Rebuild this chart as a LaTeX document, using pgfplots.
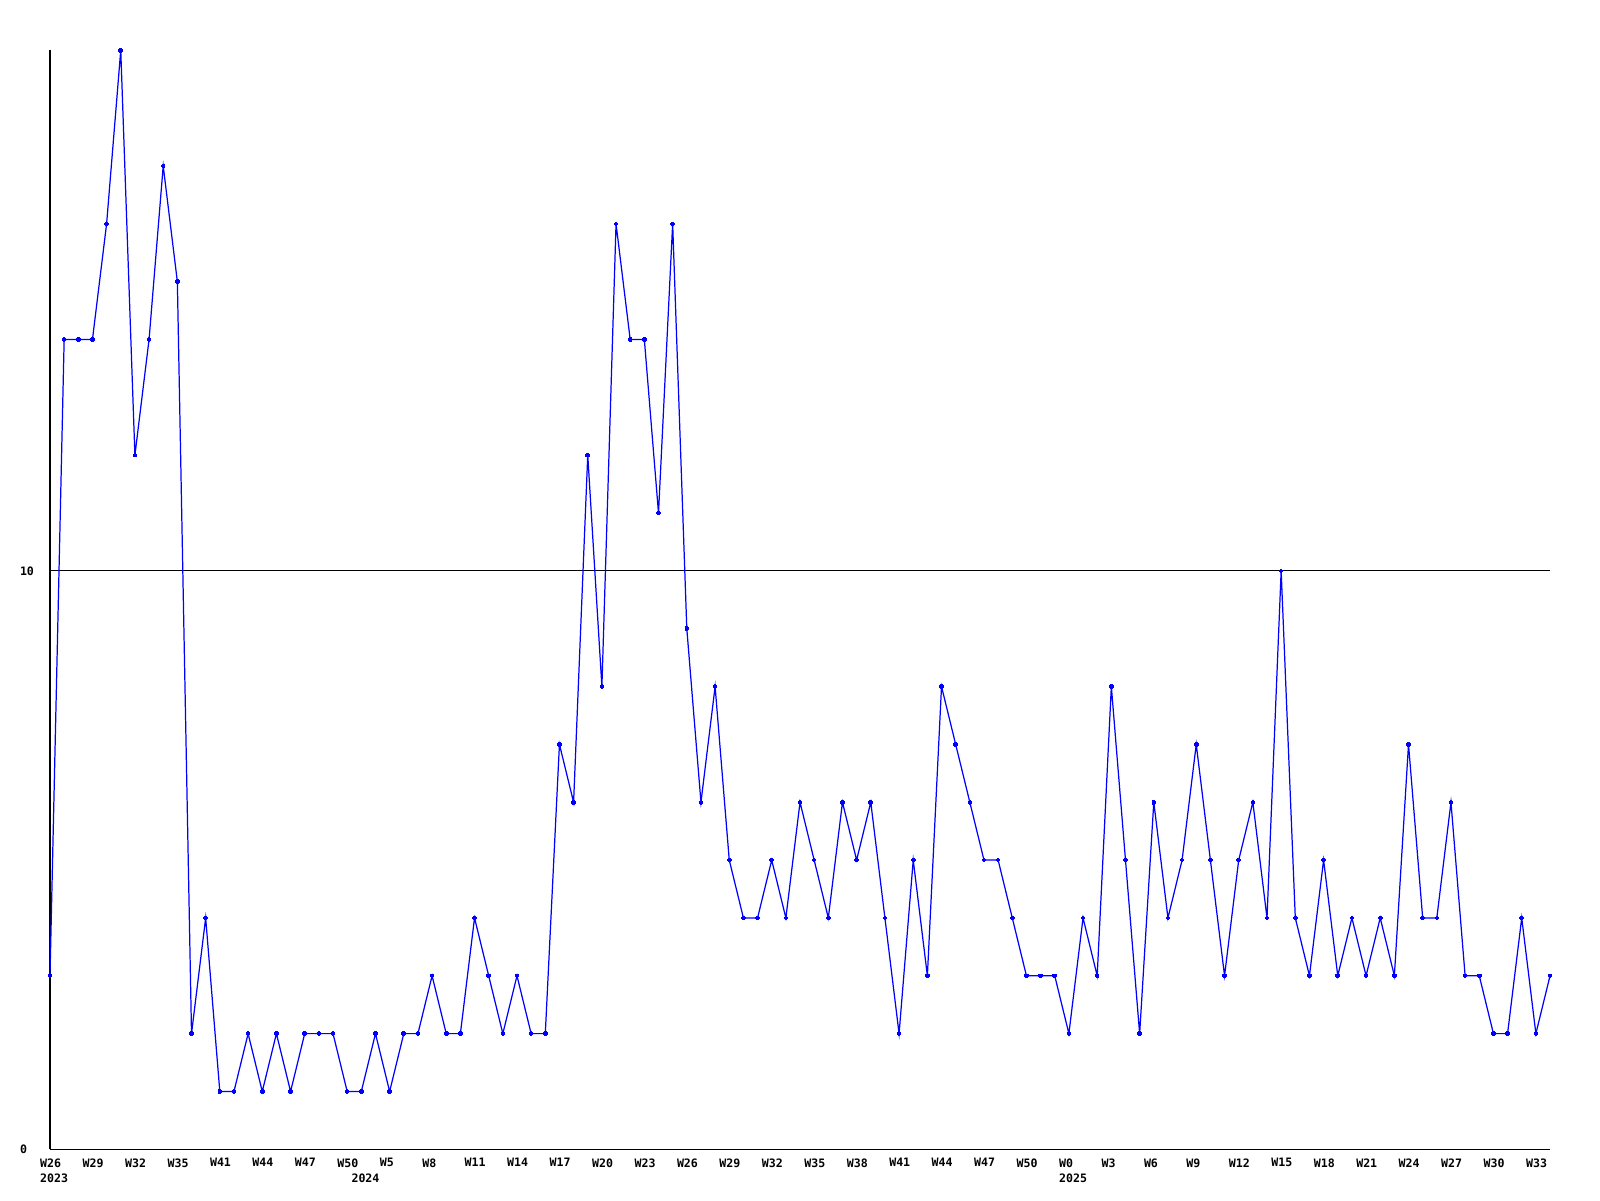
\documentclass[border=0pt]{standalone}
\usepackage{pgfplots}
\pgfplotsset{compat=1.18}
\usepackage{fontspec}
\setmonofont{DejaVu Sans Mono}
\newcommand{\lab}{\ttfamily\bfseries\fontsize{3.3}{3.3}\selectfont}
\begin{document}
\begin{tikzpicture}
\begin{axis}[
  scale only axis,
  width=15cm, height=10.99cm,
  xmin=0, xmax=106, ymin=0, ymax=19,
  axis x line=bottom, axis y line=left,
  axis line style={-, black, line width=0.3pt},
  clip=false,
  major tick length=0pt,
  xtick={0,3,...,105},
  xticklabels={W26,W29,W32,W35,W41,W44,W47,W50,W5,W8,W11,W14,W17,W20,W23,W26,W29,W32,W35,W38,W41,W44,W47,W50,W0,W3,W6,W9,W12,W15,W18,W21,W24,W27,W30,W33},
  xticklabel style={font=\lab, anchor=north west, inner sep=0pt, xshift=-0.105cm, yshift=-0.085cm},
  ytick={0,10},
  yticklabels={0,10},
  yticklabel style={font=\lab, anchor=west, inner sep=0pt, xshift=-0.307cm},
  ymajorgrids, grid style={black, line width=0.3pt},
]
\addplot[blue, line width=0.35pt, mark=+, mark size=0.65pt, mark options={line width=0.75pt}] coordinates {
(0,3)(1,14)(2,14)(3,14)(4,16)(5,19)(6,12)(7,14)(8,17)(9,15)
(10,2)(11,4)(12,1)(13,1)(14,2)(15,1)(16,2)(17,1)(18,2)(19,2)
(20,2)(21,1)(22,1)(23,2)(24,1)(25,2)(26,2)(27,3)(28,2)(29,2)
(30,4)(31,3)(32,2)(33,3)(34,2)(35,2)(36,7)(37,6)(38,12)(39,8)
(40,16)(41,14)(42,14)(43,11)(44,16)(45,9)(46,6)(47,8)(48,5)(49,4)
(50,4)(51,5)(52,4)(53,6)(54,5)(55,4)(56,6)(57,5)(58,6)(59,4)
(60,2)(61,5)(62,3)(63,8)(64,7)(65,6)(66,5)(67,5)(68,4)(69,3)
(70,3)(71,3)(72,2)(73,4)(74,3)(75,8)(76,5)(77,2)(78,6)(79,4)
(80,5)(81,7)(82,5)(83,3)(84,5)(85,6)(86,4)(87,10)(88,4)(89,3)
(90,5)(91,3)(92,4)(93,3)(94,4)(95,3)(96,7)(97,4)(98,4)(99,6)
(100,3)(101,3)(102,2)(103,2)(104,4)(105,2)(106,3)
};
\node[font=\lab, anchor=north west, inner sep=0pt, xshift=-0.105cm, yshift=-0.235cm] at (axis cs:0,0) {2023};
\node[font=\lab, anchor=north west, inner sep=0pt, xshift=-0.105cm, yshift=-0.235cm] at (axis cs:22,0) {2024};
\node[font=\lab, anchor=north west, inner sep=0pt, xshift=-0.105cm, yshift=-0.235cm] at (axis cs:72,0) {2025};
\end{axis}
\pgfresetboundingbox
\useasboundingbox (-0.5cm,-0.507cm) rectangle (15.5cm,11.493cm);
\end{tikzpicture}
\end{document}
